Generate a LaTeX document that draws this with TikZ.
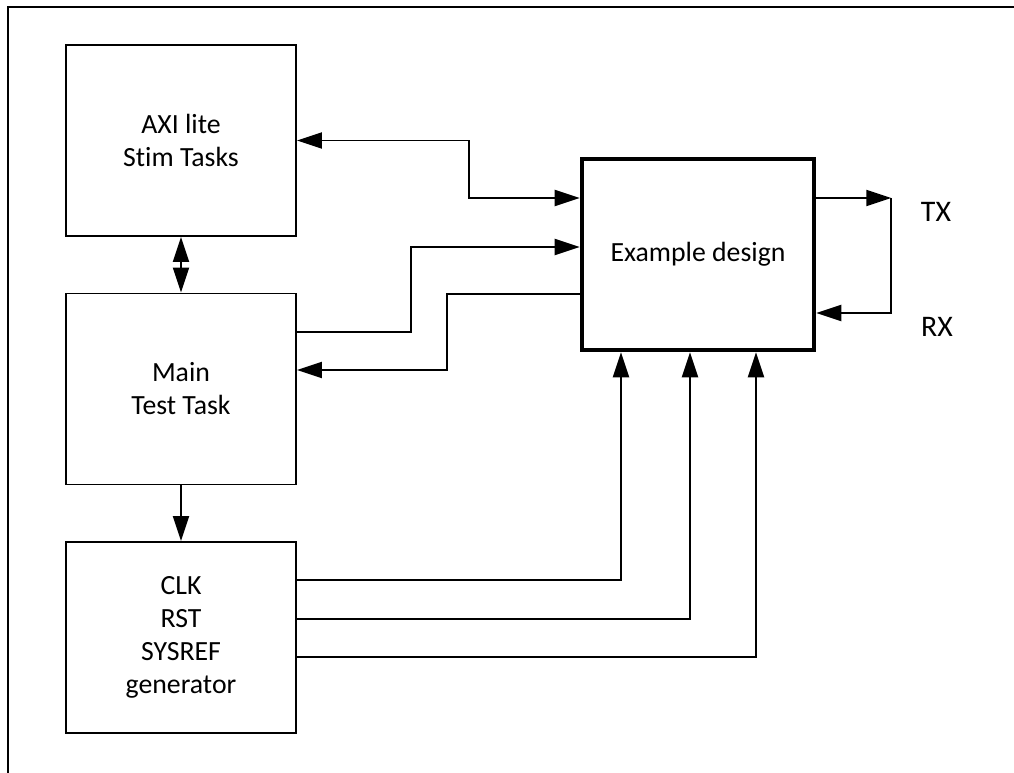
\documentclass[tikz,border=0pt]{standalone}
\usepackage{fontspec}
\setmainfont{Carlito}[Ligatures=NoCommon]
\usetikzlibrary{calc,arrows.meta}

\begin{document}
\begin{tikzpicture}[x=0.2mm,y=-0.2mm,
		>={Triangle[length=5mm,width=3.2mm]},
		blk/.style={draw,line width=1.1pt,minimum width=46mm,minimum height=38.2mm,align=center,font=\fontsize{15.8}{18.8}\selectfont},
		link/.style={line width=1.1pt},
		port/.style={font=\fontsize{17}{20}\selectfont}]
				\useasboundingbox (0,0) rectangle (1014,773);
				
				%frame
				\draw[link] (1014,7) -- (8,7) -- (8,773);
				
				%blocks
				\node[blk] (axi) at (181,140.5) {AXI lite\\Stim Tasks};
				\node[blk] (main) at (181,389) {Main\\Test Task};
				\node[blk] (clk) at (181,637.5) {CLK\\RST\\SYSREF\\generator};
				\node[blk,line width=2.6pt,minimum width=46.4mm] (ed) at (698,254.5) {Example design};
				
				\node[port] (tx) at (936,212) {TX};
				\node[port] (rx) at (937,327) {RX};
				
				%task links
				\draw[link,<->] (axi) -- (main);
				\draw[link,->] (main) -- (clk);
				\draw[link,<->] (axi.east) -- ++(172,0) |- ($(ed.west)+(0,-56.5)$);
				\draw[link,->] ($(main.east)+(0,-57)$) -- ++(114,0) |- ($(ed.west)+(0,-7.5)$);
				\draw[link,->] ($(ed.west)+(0,39.5)$) -- ++(-133,0) |- ($(main.east)+(0,-19)$);
				
				%clock, reset, sysref
				\foreach \dy/\dx in {-57.5/-77,-18.5/-8,19.5/58}{
					\draw[link,->] ($(clk.east)+(0,\dy)$) -| ($(ed.south)+(\dx,0)$);
				}
				
				%tx to rx loop
				\draw[link,->] ($(ed.east)+(0,-56.5)$) -- ++(75,0) coordinate (loop);
				\draw[link,->] (loop) |- ($(ed.east)+(0,58.5)$);
			
			\end{tikzpicture}
\end{document}
